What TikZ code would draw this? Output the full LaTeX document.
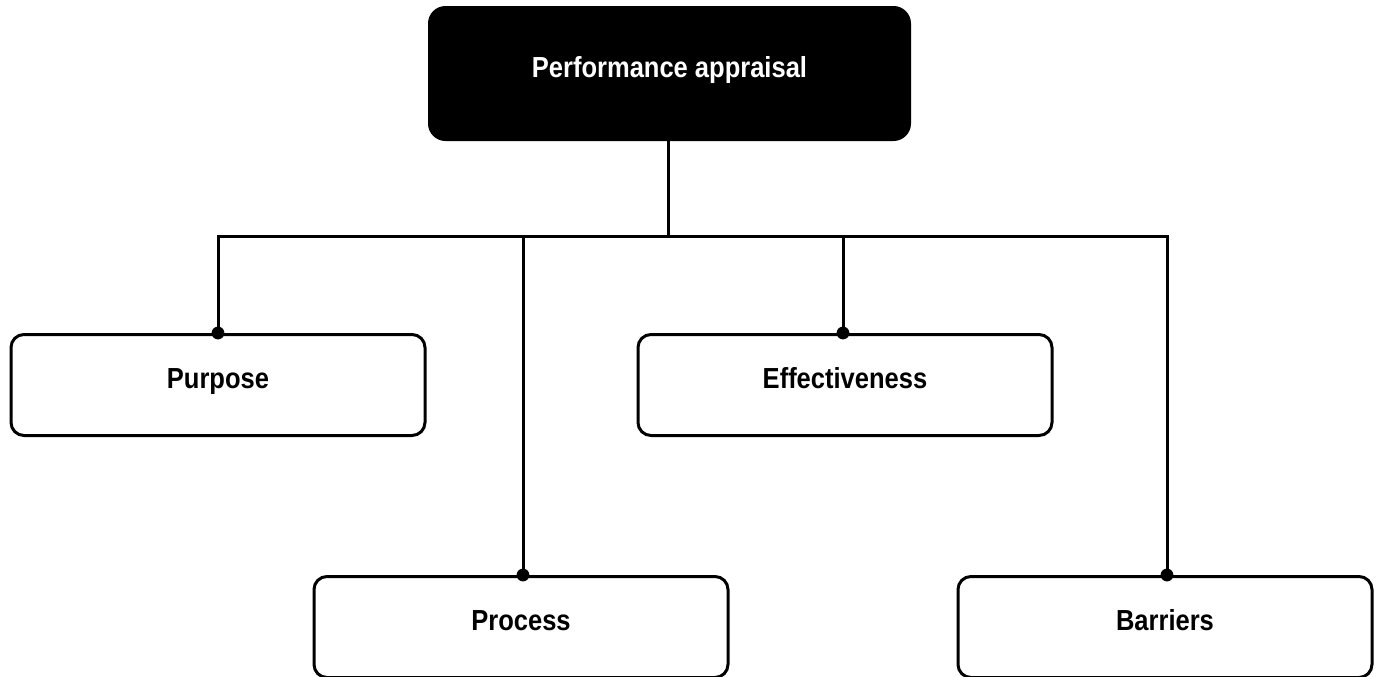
\documentclass[tikz,border=0pt]{standalone}
\usepackage{fontspec}
\setmainfont{Liberation Sans}[FakeStretch=0.88]
\begin{document}
\begin{tikzpicture}[x=0.5pt,y=-0.5pt,
  every node/.style={font=\fontsize{14.5pt}{17pt}\selectfont\bfseries,
    inner sep=0pt, text height=11pt, text depth=7.5pt},
  rootbox/.style={draw=black, fill=black, text=white, line width=1.5pt,
    rounded corners=8pt, minimum width=240pt, minimum height=66pt},
  itembox/.style={draw=black, fill=white, line width=1.5pt,
    rounded corners=6.5pt, minimum width=207pt, minimum height=50.5pt},
  link/.style={line width=1.5pt},
  joint/.style={fill=black}]
\useasboundingbox (0,0) rectangle (1383,676);
\clip (0,0) rectangle (1383,676);

% root of the tree
\node[rootbox] (root) at (669.5,73.5) {Performance appraisal};

% the four branches
\node[itembox] (purpose) at (218,385) {Purpose};
\node[itembox] (effect)  at (845,385) {Effectiveness};
\node[itembox] (process) at (521,627) {Process};
\node[itembox] (barrier) at (1165,627) {Barriers};

% level of the horizontal bus
\coordinate (bus) at (668,236);

% stem from the root and the bus with its drops
\draw[link] (root.south -| bus) -- (bus);
\coordinate (pT) at (218,333);
\coordinate (eT) at (843,333);
\coordinate (sT) at (523,575);
\coordinate (bT) at (1167,575);
\draw[link] (pT) -- (pT |- bus) -- (bT |- bus) -- (bT);
\draw[link] (eT |- bus) -- (eT);
\draw[link] (sT |- bus) -- (sT);

% junction dots on the box tops
\foreach \p in {pT,eT,sT,bT}
  \fill[joint] (\p) circle (3.2pt);
\end{tikzpicture}
\end{document}
